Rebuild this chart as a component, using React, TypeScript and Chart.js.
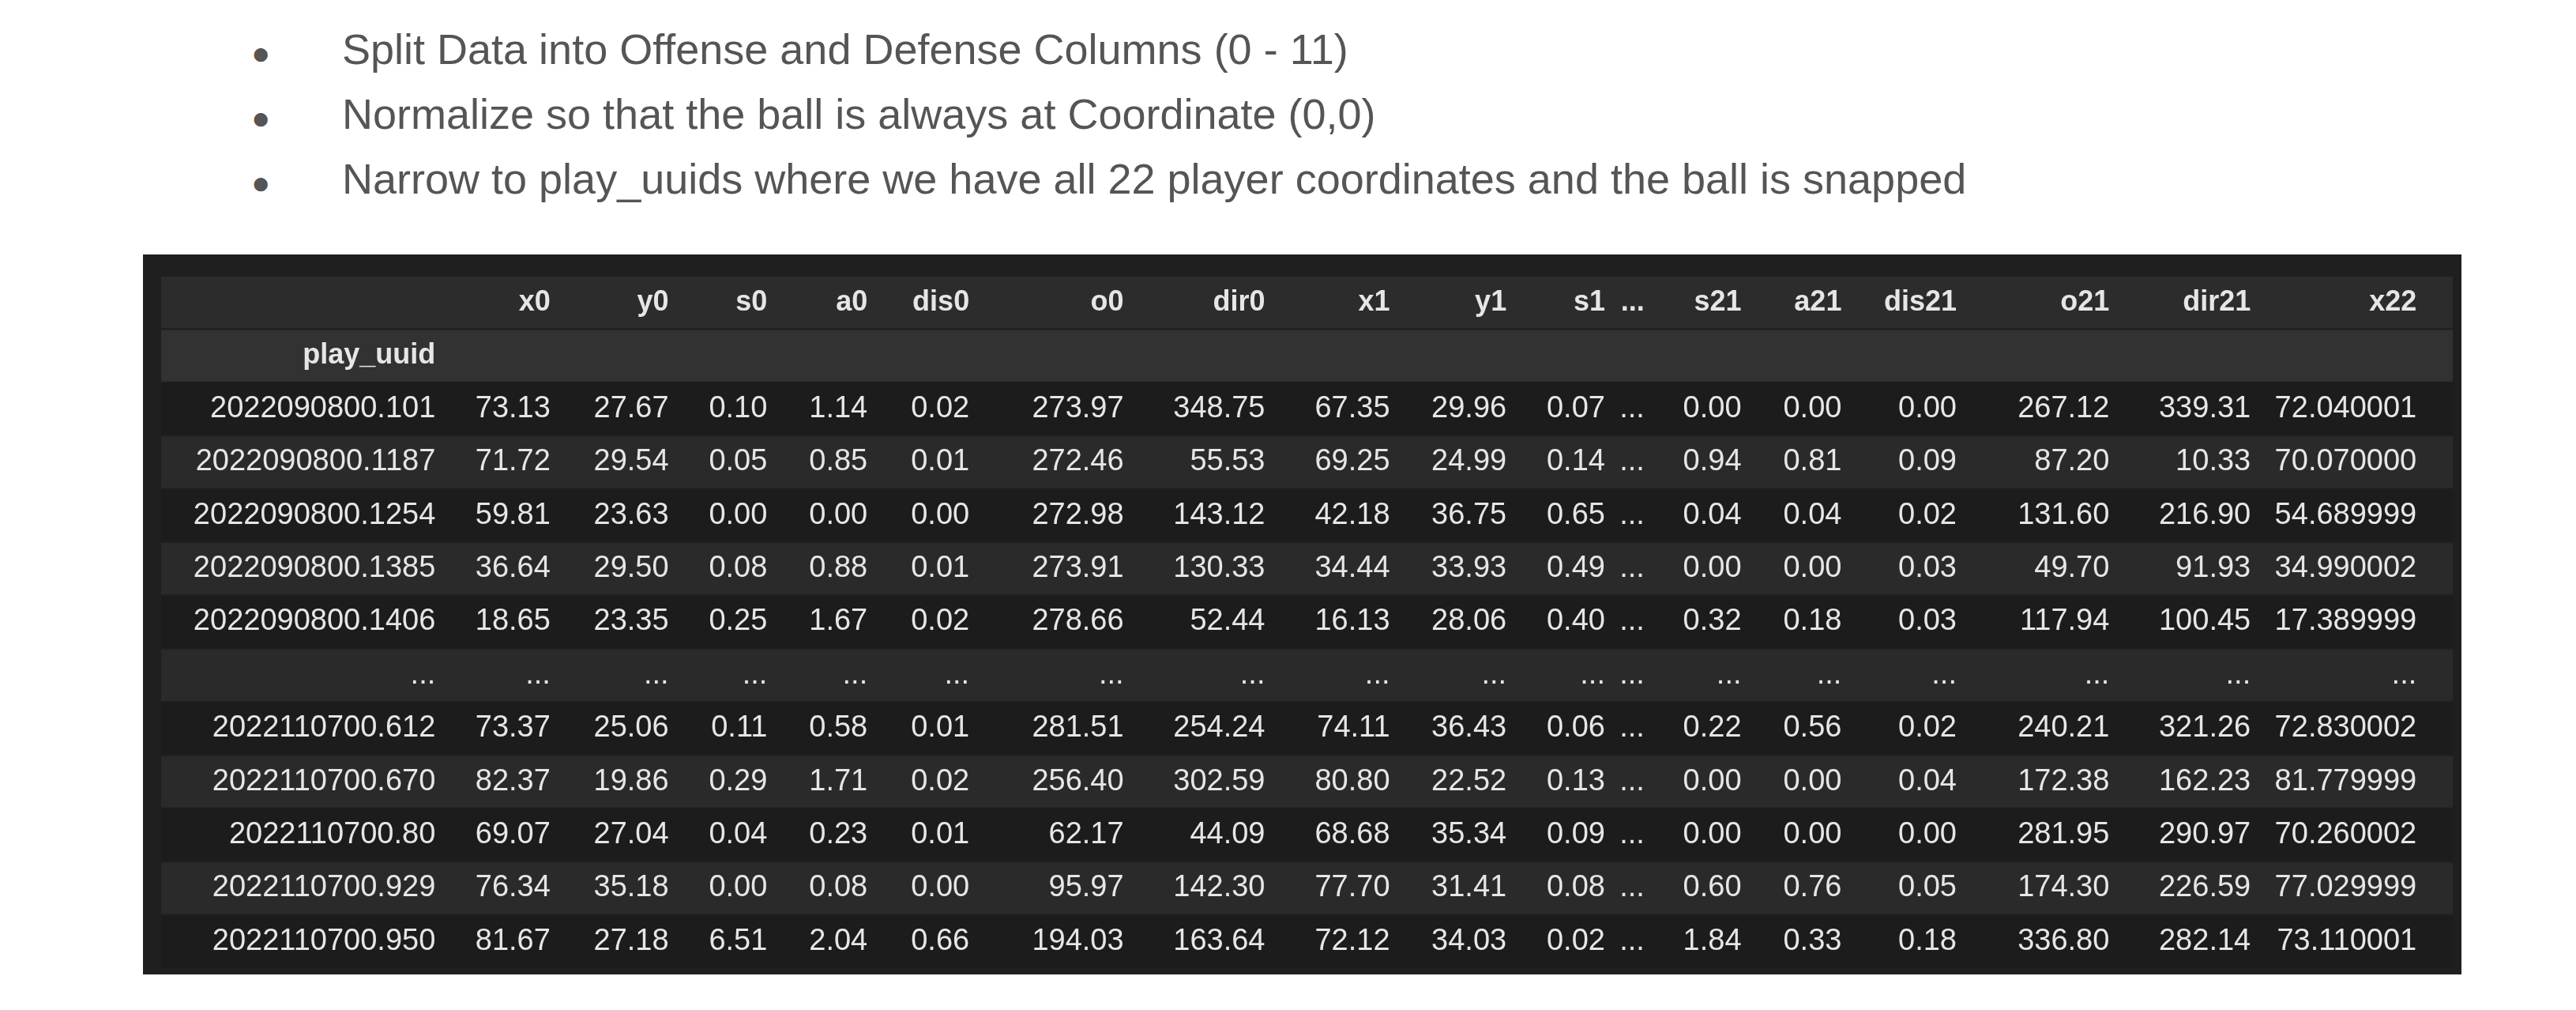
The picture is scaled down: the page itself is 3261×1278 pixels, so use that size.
import React, { useEffect, useRef } from 'react';
import Chart from 'chart.js/auto';

const bullets = [
	'Split Data into Offense and Defense Columns (0 - 11)',
	'Normalize so that the ball is always at Coordinate (0,0)',
	'Narrow to play_uuids where we have all 22 player coordinates and the ball is snapped'
];

const columns = ['x0', 'y0', 's0', 'a0', 'dis0', 'o0', 'dir0', 'x1', 'y1', 's1', '...', 's21', 'a21', 'dis21', 'o21', 'dir21', 'x22'];
// right edge of each column's text, in table units (table is 1395 wide)
const columnEdges = [167, 237, 309, 369, 430, 492, 586, 672, 748, 819, 879, 903, 962, 1023, 1093, 1186, 1272, 1373];

const indexLabels = [
	'2022090800.101', '2022090800.1187', '2022090800.1254', '2022090800.1385', '2022090800.1406', '...',
	'2022110700.612', '2022110700.670', '2022110700.80', '2022110700.929', '2022110700.950'
];

const cells = [
	['73.13', '27.67', '0.10', '1.14', '0.02', '273.97', '348.75', '67.35', '29.96', '0.07', '...', '0.00', '0.00', '0.00', '267.12', '339.31', '72.040001'],
	['71.72', '29.54', '0.05', '0.85', '0.01', '272.46', '55.53', '69.25', '24.99', '0.14', '...', '0.94', '0.81', '0.09', '87.20', '10.33', '70.070000'],
	['59.81', '23.63', '0.00', '0.00', '0.00', '272.98', '143.12', '42.18', '36.75', '0.65', '...', '0.04', '0.04', '0.02', '131.60', '216.90', '54.689999'],
	['36.64', '29.50', '0.08', '0.88', '0.01', '273.91', '130.33', '34.44', '33.93', '0.49', '...', '0.00', '0.00', '0.03', '49.70', '91.93', '34.990002'],
	['18.65', '23.35', '0.25', '1.67', '0.02', '278.66', '52.44', '16.13', '28.06', '0.40', '...', '0.32', '0.18', '0.03', '117.94', '100.45', '17.389999'],
	['...', '...', '...', '...', '...', '...', '...', '...', '...', '...', '...', '...', '...', '...', '...', '...', '...'],
	['73.37', '25.06', '0.11', '0.58', '0.01', '281.51', '254.24', '74.11', '36.43', '0.06', '...', '0.22', '0.56', '0.02', '240.21', '321.26', '72.830002'],
	['82.37', '19.86', '0.29', '1.71', '0.02', '256.40', '302.59', '80.80', '22.52', '0.13', '...', '0.00', '0.00', '0.04', '172.38', '162.23', '81.779999'],
	['69.07', '27.04', '0.04', '0.23', '0.01', '62.17', '44.09', '68.68', '35.34', '0.09', '...', '0.00', '0.00', '0.00', '281.95', '290.97', '70.260002'],
	['76.34', '35.18', '0.00', '0.08', '0.00', '95.97', '142.30', '77.70', '31.41', '0.08', '...', '0.60', '0.76', '0.05', '174.30', '226.59', '77.029999'],
	['81.67', '27.18', '6.51', '2.04', '0.66', '194.03', '163.64', '72.12', '34.03', '0.02', '...', '1.84', '0.33', '0.18', '336.80', '282.14', '73.110001']
];

const rowKeys = ['header', 'play_uuid', ...indexLabels];

const tablePlugin = {
	id: 'tableText',
	beforeDraw(chart: any) {
		const { ctx } = chart;
		ctx.save();
		ctx.fillStyle = '#1f1f1f';
		ctx.fillRect(181, 322, 2935, 911);
		ctx.restore();
	},
	afterDatasetsDraw(chart: any) {
		const { ctx, scales } = chart;
		const xs = scales.x;
		const ys = scales.y;
		ctx.save();
		ctx.textAlign = 'right';
		ctx.textBaseline = 'middle';
		ctx.fillStyle = '#e6e6e6';
		const px = (i: number) => xs.getPixelForValue(columnEdges[i]);
		ctx.font = 'bold 36px "Liberation Sans", Arial, sans-serif';
		columns.forEach((c, j) => ctx.fillText(c, px(j + 1), ys.getPixelForValue(0)));
		ctx.fillText('play_uuid', px(0), ys.getPixelForValue(1));
		ctx.font = '38px "Liberation Sans", Arial, sans-serif';
		indexLabels.forEach((lab, i) => {
			const y = ys.getPixelForValue(i + 2);
			ctx.fillText(lab, px(0), y);
			cells[i].forEach((v, j) => ctx.fillText(v, px(j + 1), y));
		});
		ctx.restore();
	}
};

function TableChart() {
	const chartRef = useRef<HTMLCanvasElement>(null);
	const chartInstance = useRef<Chart | null>(null);

	useEffect(() => {
		if (chartInstance.current) chartInstance.current.destroy();
		if (!chartRef.current) return;
		const ctx = chartRef.current.getContext('2d');
		if (!ctx) return;

		const rowColors = rowKeys.map((_, i) =>
			i === 0 ? '#2c2c2c' : i === 1 ? '#323232' : i % 2 === 0 ? '#1c1c1c' : '#2a2a2a'
		);

		chartInstance.current = new Chart(ctx, {
			type: 'bar',
			data: {
				labels: rowKeys,
				datasets: [
					{
						data: rowKeys.map(() => [0, 1395]) as any,
						backgroundColor: rowColors,
						barPercentage: 0.97,
						categoryPercentage: 1,
						borderWidth: 0
					}
				]
			},
			options: {
				indexAxis: 'y',
				animation: false,
				responsive: true,
				maintainAspectRatio: false,
				layout: { padding: { left: 204, right: 156, top: 349, bottom: 53 } },
				plugins: { legend: { display: false }, tooltip: { enabled: false } },
				scales: {
					x: { type: 'linear', min: 0, max: 1395, display: false },
					y: { type: 'category', display: false }
				}
			},
			plugins: [tablePlugin]
		});

		return () => {
			if (chartInstance.current) chartInstance.current.destroy();
		};
	}, []);

	return (
		<div style={{ position: 'absolute', left: 0, top: 0, width: 3261, height: 1278 }}>
			<canvas ref={chartRef}></canvas>
		</div>
	);
}

export default function App() {
	return (
		<div style={{ position: 'absolute', left: 0, top: 0, width: 3261, height: 1278, background: '#fff', fontFamily: '"Liberation Sans", Arial, sans-serif' }}>
			{bullets.map((b, i) => (
				<div
					key={i}
					style={{ position: 'absolute', left: 318, top: 30 + i * 82, fontSize: 54, lineHeight: '64px', color: '#555', whiteSpace: 'nowrap' }}
				>
					<span style={{ display: 'inline-block', width: 115, fontSize: 40 }}>●</span>
					{b}
				</div>
			))}
			<TableChart />
		</div>
	);
}
